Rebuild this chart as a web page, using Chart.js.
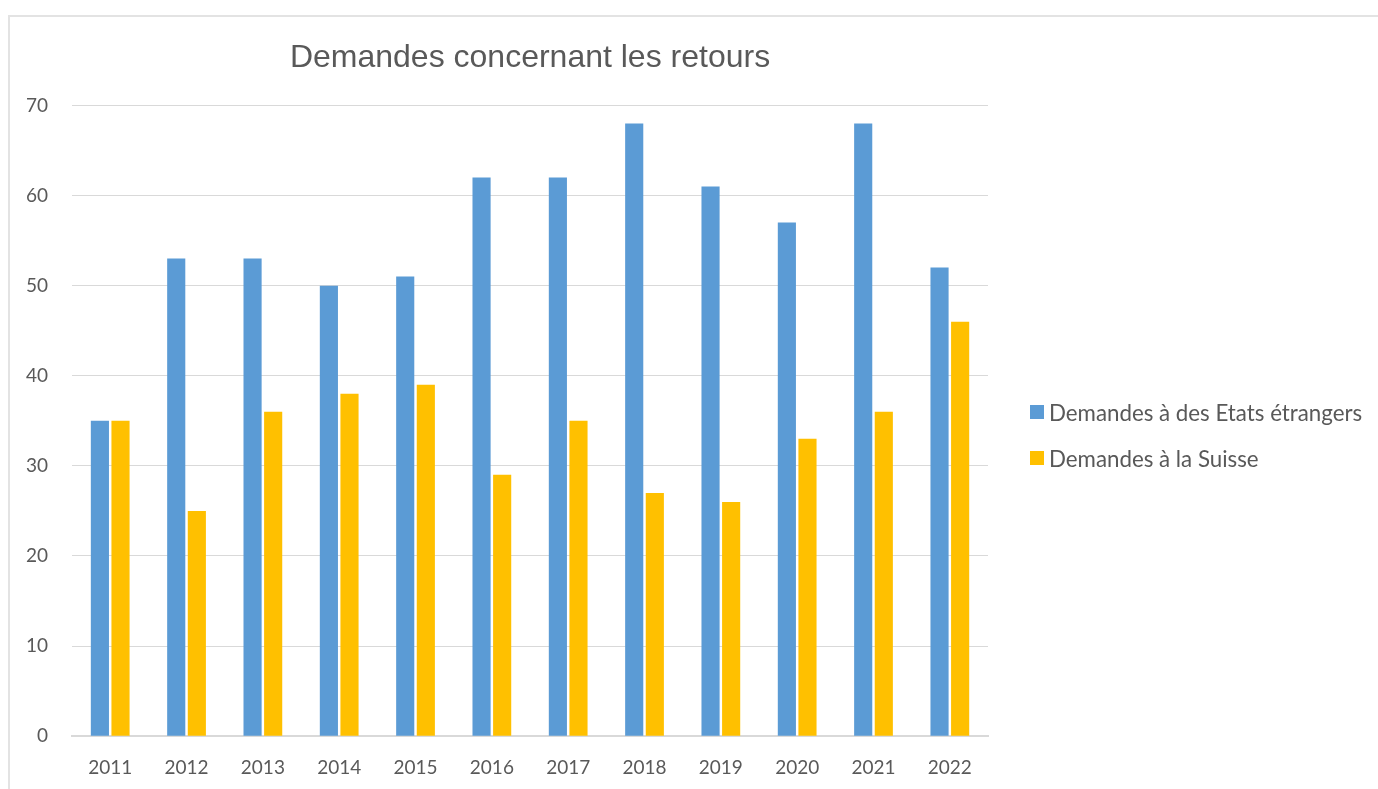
<!DOCTYPE html>
<html>
<head>
<meta charset="utf-8">
<script src="https://cdn.jsdelivr.net/npm/chart.js@4/dist/chart.umd.min.js"></script>
<style>
  html, body { margin: 0; padding: 0; background: #fff; overflow: hidden; }
  #cadre { position: absolute; left: 8px; top: 15px; width: 1400px; height: 800px; border: 2px solid #e3e3e3; box-sizing: border-box; }
  #wrap { position: absolute; left: 0; top: 0; width: 1378px; height: 789px; }
  #legende { position: absolute; left: 1030px; top: 398px; font-family: Lato, sans-serif; font-size: 22.3px; color: #595959; }
  #legende .item { display: flex; align-items: center; height: 28px; margin-bottom: 18px; white-space: nowrap; }
  #legende .carre { width: 14px; height: 14px; margin-right: 5px; }
</style>
</head>
<body>
<div id="cadre"></div>
<div id="wrap"><canvas id="grafico"></canvas></div>
<div id="legende"></div>
<script>
const annees = ['2011', '2012', '2013', '2014', '2015', '2016', '2017', '2018', '2019', '2020', '2021', '2022'];
const etatsEtrangers = [35, 53, 53, 50, 51, 62, 62, 68, 61, 57, 68, 52];
const suisse = [35, 25, 36, 38, 39, 29, 35, 27, 26, 33, 36, 46];
const titre = 'Demandes concernant les retours';
const gris = '#595959';

const ctx = document.getElementById('grafico');

const grafico = new Chart(ctx, {
  type: 'bar',
  data: {
    labels: annees,
    datasets: [
      {
        label: 'Demandes à des Etats étrangers',
        data: etatsEtrangers,
        backgroundColor: '#5B9BD5',
        barPercentage: 0.88,
        categoryPercentage: 0.54
      },
      {
        label: 'Demandes à la Suisse',
        data: suisse,
        backgroundColor: '#FFC000',
        barPercentage: 0.88,
        categoryPercentage: 0.54
      }
    ]
  },
  options: {
    responsive: true,
    maintainAspectRatio: false,
    animation: false,
    // la place a droite est pour la legende html
    layout: { padding: { left: 2, right: 390, top: 0, bottom: -2 } },
    plugins: {
      title: {
        display: true,
        text: titre,
        fullSize: false,
        color: gris,
        font: { family: '"Liberation Sans", Arial, sans-serif', size: 32, weight: 'normal' },
        padding: { top: 39, bottom: 28 }
      },
      legend: { display: false },
      tooltip: { enabled: false }
    },
    scales: {
      x: {
        grid: { display: false },
        border: { color: '#d9d9d9', width: 2 },
        ticks: { color: gris, padding: 12, font: { family: 'Lato, sans-serif', size: 19 } }
      },
      y: {
        min: 0,
        max: 70,
        ticks: { stepSize: 10, color: gris, padding: 24, font: { family: 'Lato, sans-serif', size: 19 } },
        grid: { color: '#d9d9d9', lineWidth: 1, drawTicks: false },
        border: { display: false }
      }
    }
  }
});

// legende construite depuis les datasets du graphique
const legende = document.getElementById('legende');
grafico.options.plugins.legend.labels.generateLabels(grafico).forEach(function (it) {
  const item = document.createElement('div');
  item.className = 'item';
  const carre = document.createElement('span');
  carre.className = 'carre';
  carre.style.background = it.fillStyle;
  const texte = document.createElement('span');
  texte.textContent = it.text;
  item.appendChild(carre);
  item.appendChild(texte);
  legende.appendChild(item);
});
</script>
</body>
</html>
